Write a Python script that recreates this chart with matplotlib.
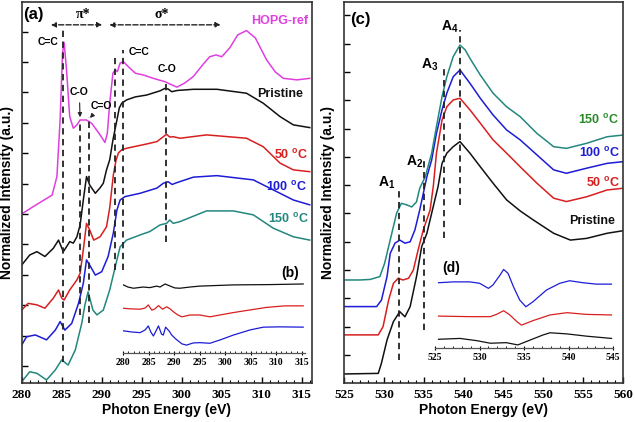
import matplotlib
matplotlib.use("Agg")
import matplotlib.pyplot as plt
from matplotlib.ticker import MultipleLocator

plt.rcParams["font.family"] = ["Liberation Sans", "DejaVu Sans"]
plt.rcParams["mathtext.fontset"] = "custom"
plt.rcParams["mathtext.rm"] = "Liberation Sans:bold"
plt.rcParams["mathtext.bf"] = "Liberation Sans:bold"

# colours
C_BLACK = "#111111"
C_RED = "#d81f1f"
C_BLUE = "#1c1cd6"
C_TEAL = "#23877f"
C_MAG = "#e03fe0"
C_GREEN = "#2a8a2a"

# ---------------- panel (a): C K-edge ----------------
hopg_e = [280.0, 281.8, 283.8, 284.4, 284.8, 285.1, 285.3, 285.6, 286.0, 286.45, 286.9, 287.3,
          288.1, 288.75, 289.8, 290.4, 290.7, 291.0, 291.4, 291.7, 291.95, 292.3, 292.7, 293.3,
          294.2, 295.2, 296.45, 297.9, 299.4, 300.4, 301.45, 302.7, 303.5, 304.3, 305.0, 306.0,
          307.0, 308.1, 309.2, 310.6, 311.7, 312.7, 314.4, 316.0]
hopg_i = [5.00, 5.30, 5.62, 6.23, 8.09, 10.29, 10.64, 9.74, 8.20, 7.82, 7.93, 8.09,
          8.09, 7.98, 7.60, 7.35, 7.65, 8.64, 9.63, 9.74, 9.68, 9.96, 10.01, 9.85,
          9.63, 9.57, 9.46, 9.35, 9.17, 9.31, 9.52, 9.93, 10.17, 10.23, 10.17, 10.46,
          10.89, 11.03, 10.79, 10.07, 9.67, 9.46, 9.41, 9.46]

pri_e = [280.0, 281.0, 281.9, 282.9, 283.95, 284.6, 285.2, 285.6, 286.0, 286.45, 286.9, 287.3,
         287.7, 288.1, 288.5, 289.2, 289.8, 290.2, 290.6, 291.0, 291.4, 291.9, 292.2, 292.5,
         293.1, 294.2, 295.6, 296.7, 297.3, 297.9, 298.3, 298.75, 299.4, 301.45, 304.4, 308.1,
         310.2, 312.3, 313.95, 316.0]
pri_i = [3.32, 3.65, 3.76, 3.60, 3.87, 4.14, 3.76, 3.92, 4.09, 4.04, 4.25, 4.64,
         5.46, 6.23, 5.95, 5.68, 5.86, 6.01, 6.45, 6.78, 7.43, 8.09, 8.49, 8.64,
         8.75, 8.85, 8.91, 9.00, 9.05, 9.13, 9.11, 9.02, 9.06, 9.10, 9.10, 8.97,
         8.64, 8.20, 7.93, 7.84]

c50_e = [280.0, 280.8, 281.9, 282.9, 283.95, 284.6, 285.0, 285.3, 286.0, 286.9, 287.3, 287.7,
         288.1, 288.5, 289.0, 289.8, 290.6, 291.0, 291.45, 291.8, 292.1, 292.5, 293.1, 295.6,
         296.9, 297.5, 298.1, 298.5, 298.95, 299.8, 303.1, 308.1, 310.2, 312.3, 313.95, 316.0]
c50_i = [1.84, 2.06, 2.01, 1.90, 2.23, 2.50, 2.23, 2.17, 2.50, 2.83, 3.05, 3.82,
         4.69, 4.47, 4.14, 4.25, 4.58, 5.20, 6.28, 6.78, 7.01, 7.11, 7.16, 7.30,
         7.38, 7.50, 7.62, 7.53, 7.54, 7.49, 7.60, 7.49, 7.21, 6.67, 6.45, 6.39]

c100_e = [280.0, 280.6, 281.7, 283.1, 284.2, 284.8, 285.4, 286.25, 287.1, 287.7, 288.1, 288.6,
          289.2, 290.0, 290.8, 291.45, 291.9, 292.3, 292.9, 294.8, 296.9, 297.7, 298.3, 298.8,
          299.4, 301.45, 304.4, 308.95, 311.45, 313.95, 316.0]
c100_i = [0.69, 0.96, 1.02, 0.86, 1.18, 1.46, 1.18, 1.40, 2.06, 2.72, 3.49, 3.27,
          2.99, 3.10, 3.60, 4.37, 5.13, 5.46, 5.57, 5.68, 5.85, 6.01, 6.06, 5.97,
          6.03, 6.21, 6.26, 6.12, 5.79, 5.46, 5.30]

c150_e = [280.0, 281.0, 281.9, 283.1, 284.2, 285.0, 285.8, 286.7, 287.5, 287.9, 288.3, 288.9,
          289.4, 290.2, 291.0, 291.7, 292.3, 293.1, 294.8, 296.0, 297.3, 298.1, 298.5, 298.95,
          299.8, 303.1, 306.45, 308.95, 311.45, 313.95, 316.0]
c150_i = [-0.52, -0.19, -0.24, -0.46, -0.13, 0.20, 0.03, 0.53, 1.40, 2.01, 2.44, 1.84,
          1.68, 1.84, 2.50, 3.27, 3.92, 4.14, 4.31, 4.42, 4.64, 4.69, 4.80, 4.69,
          4.75, 5.10, 5.10, 4.97, 4.53, 4.25, 4.14]

# inset (b): difference spectra
b_blk_e = [280.0, 280.9, 282.0, 283.9, 285.2, 286.55, 287.2, 288.2, 289.2, 290.1, 291.1, 293.1,
           295.0, 301.6, 308.8, 315.3]
b_blk_i = [2.25, 2.18, 2.14, 2.18, 2.16, 2.21, 2.18, 2.28, 2.21, 2.15, 2.14, 2.18,
           2.21, 2.25, 2.26, 2.28]
b_red_e = [280.0, 281.7, 283.3, 284.3, 284.9, 285.6, 286.2, 286.9, 287.7, 288.5, 289.2, 289.8,
           290.7, 291.5, 293.1, 295.0, 297.0, 301.6, 308.1, 311.7, 315.3]
b_red_i = [1.48, 1.46, 1.45, 1.49, 1.59, 1.42, 1.46, 1.57, 1.45, 1.53, 1.46, 1.37,
           1.26, 1.20, 1.26, 1.26, 1.20, 1.34, 1.51, 1.56, 1.56]
b_blu_e = [280.0, 281.7, 283.3, 284.3, 284.9, 285.4, 285.9, 286.4, 286.9, 287.5, 287.85, 288.3,
           289.0, 289.5, 290.3, 291.5, 292.4, 293.7, 295.0, 297.0, 299.0, 301.6, 304.9, 307.5,
           310.7, 315.3]
b_blu_i = [0.74, 0.70, 0.68, 0.77, 0.90, 0.70, 0.57, 0.73, 0.90, 0.63, 0.60, 0.86,
           0.73, 0.60, 0.47, 0.31, 0.27, 0.34, 0.35, 0.33, 0.44, 0.60, 0.77, 0.86,
           0.87, 0.86]

# ---------------- panel (c): O K-edge ----------------
o150_e = [525.1, 527.0, 528.3, 529.5, 530.1, 530.6, 531.0, 531.6, 532.2, 532.9, 533.5, 534.1,
          534.5, 535.2, 536.0, 536.6, 537.3, 537.9, 538.7, 539.55, 540.2, 540.8, 542.1, 543.7,
          545.4, 547.1, 549.2, 551.3, 552.9, 555.45, 558.0, 560.0]
o150_i = [2.65, 2.65, 2.67, 2.77, 3.24, 3.83, 4.30, 5.01, 5.36, 5.30, 5.23, 5.41,
          5.89, 6.30, 7.13, 8.07, 9.13, 9.83, 10.54, 10.95, 10.78, 10.48, 9.89, 9.25,
          8.77, 8.42, 7.83, 7.36, 7.30, 7.48, 7.71, 7.77]
o100_e = [525.1, 529.1, 529.7, 530.4, 530.8, 531.4, 532.0, 532.65, 533.3, 533.9, 534.5, 535.4,
          536.0, 536.6, 537.3, 537.9, 538.7, 539.55, 540.8, 542.1, 543.7, 545.4, 547.1, 549.2,
          551.3, 552.9, 555.45, 558.0, 560.0]
o100_i = [1.71, 1.71, 1.94, 2.77, 3.59, 3.95, 4.06, 3.95, 4.00, 4.42, 5.12, 6.30,
          6.89, 7.83, 8.66, 9.25, 9.83, 10.07, 9.60, 9.07, 8.48, 7.95, 7.60, 7.07,
          6.54, 6.42, 6.60, 6.77, 6.83]
o50_e = [525.1, 529.3, 529.9, 530.6, 531.2, 531.8, 532.4, 533.1, 533.7, 534.3, 534.95, 535.8,
         536.2, 536.6, 537.3, 537.9, 538.7, 539.55, 540.8, 542.1, 543.7, 545.4, 547.1, 549.2,
         551.3, 552.9, 555.45, 558.0, 560.0]
o50_i = [0.71, 0.71, 1.00, 1.94, 2.53, 2.71, 2.65, 2.71, 3.00, 3.71, 4.42, 5.12,
         5.95, 7.13, 8.30, 8.77, 9.01, 9.07, 8.66, 8.19, 7.60, 7.13, 6.65, 6.07,
         5.54, 5.42, 5.59, 5.83, 5.89]
opri_e = [525.1, 529.3, 529.7, 530.4, 531.2, 532.0, 532.65, 533.3, 534.1, 534.75, 535.4, 536.0,
          536.4, 536.8, 537.3, 537.9, 538.7, 539.55, 540.8, 542.1, 543.7, 545.4, 547.1, 548.75,
          551.3, 553.4, 555.45, 558.0, 560.0]
opri_i = [-0.67, -0.65, -0.29, 0.53, 1.18, 1.53, 1.35, 1.71, 2.77, 3.83, 4.30, 5.01,
          5.48, 5.95, 6.77, 7.13, 7.36, 7.54, 7.13, 6.65, 6.07, 5.48, 5.09, 4.77,
          4.30, 4.06, 4.12, 4.30, 4.39]

# inset (d): difference spectra
d_blu_e = [525.4, 527.05, 528.9, 530.0, 531.0, 531.5, 532.3, 532.7, 533.2, 533.8, 534.5, 535.2,
           536.0, 537.5, 539.0, 540.1, 541.6, 543.1, 544.8]
d_blu_i = [2.32, 2.35, 2.35, 2.30, 2.12, 2.24, 2.59, 2.79, 2.65, 2.18, 1.71, 1.47,
           1.65, 2.06, 2.30, 2.39, 2.32, 2.27, 2.27]
d_red_e = [525.4, 528.9, 531.2, 531.9, 532.7, 533.4, 534.2, 534.7, 536.0, 537.9, 539.8, 542.0, 544.8]
d_red_i = [1.14, 1.12, 1.12, 1.20, 1.33, 1.18, 0.94, 0.82, 0.98, 1.18, 1.26, 1.20, 1.18]
d_blk_e = [525.4, 527.8, 529.7, 531.2, 533.0, 534.3, 535.65, 537.1, 537.9, 539.8, 542.0, 544.8]
d_blk_i = [0.32, 0.35, 0.27, 0.18, 0.20, 0.12, 0.29, 0.47, 0.55, 0.51, 0.43, 0.35]

# marker lines: (energy, y from, y to)
a_marks = [(285.1, 0.13, 11.05), (287.3, 1.68, 8.09), (288.4, 1.41, 8.20),
           (291.6, 3.16, 10.12), (292.7, 3.16, 10.39), (298.0, 4.09, 9.35)]
c_marks = [(531.9, -0.18, 5.83), (535.0, 0.88, 6.89), (537.5, 4.12, 10.13), (539.55, 5.30, 11.48)]

DASH = (0, (3.5, 2.5))
LW = 1.1
tick_font = dict(family="Liberation Serif", weight="bold")


def frame(ax):
    for s in ax.spines.values():
        s.set_linewidth(1.2)
        s.set_color("#333333")
    ax.xaxis.set_minor_locator(MultipleLocator(1))
    ax.tick_params(direction="in", length=4.5, width=1, labelsize=9.5, pad=4)
    ax.tick_params(axis="x", which="minor", direction="in", length=2.5, width=0.8)
    ax.set_yticklabels([])
    for lab in ax.get_xticklabels():
        lab.set_fontproperties(tick_font)
        lab.set_fontsize(9.5)


def inset_frame(ax, ticks):
    ax.patch.set_alpha(0)
    for side in ("top", "left", "right"):
        ax.spines[side].set_visible(False)
    ax.spines["bottom"].set_linewidth(0.9)
    ax.spines["bottom"].set_color("#555555")
    ax.set_yticks([])
    ax.set_xticks(ticks)
    ax.xaxis.set_minor_locator(MultipleLocator(1))
    ax.tick_params(axis="x", direction="inout", length=3, width=0.8, pad=2)
    ax.tick_params(axis="x", which="minor", direction="in", length=1.5, width=0.6)
    for lab in ax.get_xticklabels():
        lab.set_fontproperties(tick_font)
        lab.set_fontsize(7)


fig = plt.figure(figsize=(6.35, 4.22), dpi=100)

# ---- (a)
ax = fig.add_axes([0.0342, 0.0924, 0.4572, 0.9028])
ax.plot(hopg_e, hopg_i, color=C_MAG, lw=LW)
ax.plot(pri_e, pri_i, color=C_BLACK, lw=LW)
ax.plot(c50_e, c50_i, color=C_RED, lw=LW)
ax.plot(c100_e, c100_i, color=C_BLUE, lw=LW)
ax.plot(c150_e, c150_i, color=C_TEAL, lw=LW)
for e, y0, y1 in a_marks:
    ax.plot([e, e], [y0, y1], color="#222222", lw=1.3, ls=DASH)
ax.set_xlim(280, 316.29)
ax.set_ylim(-0.56, 11.97)
ax.set_xticks(range(280, 316, 5))
ax.set_yticks(range(0, 12))
frame(ax)
ax.set_xlabel("Photon Energy (eV)", fontsize=10, fontweight="bold", labelpad=2)
ax.set_ylabel("Normalized Intensity (a.u.)", fontsize=10, fontweight="bold")
ax.yaxis.set_label_coords(-0.028, 0.5)

bold = dict(fontweight="bold", ha="center", va="center")
ax.text(281.4, 11.55, "(a)", fontsize=12, **bold)
ax.text(287.7, 11.55, "π*", fontsize=10, family="Liberation Serif", **bold)
ax.text(297.5, 11.55, "σ*", fontsize=10, family="Liberation Serif", **bold)
arr = dict(arrowstyle="<|-|>", ls="--", lw=1.0, color="#222222", mutation_scale=7)
ax.annotate("", xy=(283.3, 11.22), xytext=(290.4, 11.22), arrowprops=arr)
ax.annotate("", xy=(290.6, 11.22), xytext=(305.2, 11.22), arrowprops=arr)
ax.text(312.3, 11.36, "HOPG-ref", color=C_MAG, fontsize=9, **bold)
ax.text(283.3, 10.67, "C=C", fontsize=7.5, **bold)
ax.text(294.6, 10.34, "C=C", fontsize=7.5, **bold)
ax.text(298.1, 9.76, "C-O", fontsize=7.5, **bold)
small_arr = dict(arrowstyle="-|>", lw=0.8, color="#222222", mutation_scale=6)
ax.annotate("C-O", xy=(287.3, 8.09), xytext=(287.2, 9.0), fontsize=7.5,
            fontweight="bold", ha="center", va="center", arrowprops=small_arr)
ax.annotate("C=O", xy=(288.3, 8.09), xytext=(289.9, 8.55), fontsize=7.5,
            fontweight="bold", ha="center", va="center", arrowprops=small_arr)
ax.text(312.3, 8.95, "Pristine", color=C_BLACK, fontsize=9, **bold)
ax.text(313.6, 6.94, r"50 $^{\mathbf{o}}$C", color=C_RED, fontsize=9, **bold)
ax.text(313.1, 5.88, r"100 $^{\mathbf{o}}$C", color=C_BLUE, fontsize=9, **bold)
ax.text(313.3, 4.83, r"150 $^{\mathbf{o}}$C", color=C_TEAL, fontsize=9, **bold)
ax.text(313.5, 3.07, "(b)", fontsize=10, **bold)

# ---- inset (b)
axb = fig.add_axes([0.1942, 0.1628, 0.2861, 0.1974])
axb.plot(b_blk_e, b_blk_i, color=C_BLACK, lw=0.9)
axb.plot(b_red_e, b_red_i, color=C_RED, lw=0.9)
axb.plot(b_blu_e, b_blu_i, color=C_BLUE, lw=0.9)
axb.set_xlim(280, 315.65)
axb.set_ylim(0, 2.74)
inset_frame(axb, range(280, 316, 5))

# ---- (c)
axc = fig.add_axes([0.5417, 0.0924, 0.4394, 0.9028])
axc.plot(opri_e, opri_i, color=C_BLACK, lw=LW)
axc.plot(o50_e, o50_i, color=C_RED, lw=LW)
axc.plot(o100_e, o100_i, color=C_BLUE, lw=LW)
axc.plot(o150_e, o150_i, color=C_TEAL, lw=LW)
for e, y0, y1 in c_marks:
    axc.plot([e, e], [y0, y1], color="#222222", lw=1.3, ls=DASH)
axc.set_xlim(525, 560)
axc.set_ylim(-0.99, 12.47)
axc.set_xticks(range(525, 561, 5))
axc.set_yticks(range(0, 13))
frame(axc)
axc.set_xlabel("Photon Energy (eV)", fontsize=10, fontweight="bold", labelpad=2)
axc.set_ylabel("Normalized Intensity (a.u.)", fontsize=10, fontweight="bold")
axc.yaxis.set_label_coords(-0.032, 0.5)

axc.text(527.0, 11.84, "(c)", fontsize=12, **bold)
axc.text(538.3, 11.6, r"A$_{\mathbf{4}}$", fontsize=10, **bold)
axc.text(535.8, 10.25, r"A$_{\mathbf{3}}$", fontsize=10, **bold)
axc.text(533.9, 6.81, r"A$_{\mathbf{2}}$", fontsize=10, **bold)
axc.text(530.4, 6.09, r"A$_{\mathbf{1}}$", fontsize=10, **bold)
axc.text(556.9, 8.30, r"150 $^{\mathbf{o}}$C", color=C_GREEN, fontsize=9, **bold)
axc.text(557.1, 7.13, r"100 $^{\mathbf{o}}$C", color=C_BLUE, fontsize=9, **bold)
axc.text(557.5, 6.07, r"50 $^{\mathbf{o}}$C", color=C_RED, fontsize=9, **bold)
axc.text(556.1, 4.75, "Pristine", color=C_BLACK, fontsize=9, **bold)
axc.text(538.5, 3.06, "(d)", fontsize=10, **bold)

# ---- inset (d)
axd = fig.add_axes([0.685, 0.1746, 0.2808, 0.2211])
axd.plot(d_blu_e, d_blu_i, color=C_BLUE, lw=0.9)
axd.plot(d_red_e, d_red_i, color=C_RED, lw=0.9)
axd.plot(d_blk_e, d_blk_i, color=C_BLACK, lw=0.9)
axd.set_xlim(525, 545)
axd.set_ylim(0, 3.3)
inset_frame(axd, range(525, 546, 5))

fig.savefig("out.png", dpi=100)
